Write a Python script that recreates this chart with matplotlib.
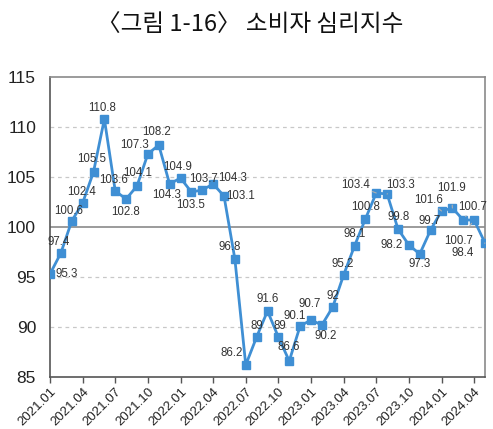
import matplotlib
matplotlib.use("Agg")
import matplotlib.pyplot as plt

# monthly consumer sentiment index, 2021.01 - 2024.05
values = [95.3, 97.4, 100.6, 102.4, 105.5, 110.8, 103.6, 102.8, 104.1, 107.3,
          108.2, 104.3, 104.9, 103.5, 103.7, 104.3, 103.1, 96.8, 86.2, 89,
          91.6, 89, 86.6, 90.1, 90.7, 90.2, 92, 95.2, 98.1, 100.8,
          103.4, 103.3, 99.8, 98.2, 97.3, 99.7, 101.6, 101.9, 100.7, 100.7,
          98.4]
value_text = ["95.3", "97.4", "100.6", "102.4", "105.5", "110.8", "103.6", "102.8", "104.1", "107.3",
              "108.2", "104.3", "104.9", "103.5", "103.7", "104.3", "103.1", "96.8", "86.2", "89",
              "91.6", "89", "86.6", "90.1", "90.7", "90.2", "92", "95.2", "98.1", "100.8",
              "103.4", "103.3", "99.8", "98.2", "97.3", "99.7", "101.6", "101.9", "100.7", "100.7",
              "98.4"]
tick_labels = ["2021.01", "2021.04", "2021.07", "2021.10", "2022.01", "2022.04", "2022.07",
               "2022.10", "2023.01", "2023.04", "2023.07", "2023.10", "2024.01", "2024.04"]

# label offsets in pixels (dx, dy; dy positive = up) and whether a leader line is drawn
offsets = [(17, 0), (-2, 11), (-3, 10), (-1, 11), (-2, 13), (-2, 11), (-2, 11), (-1, -13), (1, 13), (-13, 9),
           (-2, 13), (-3, -11), (-3, 11), (-1, -13), (1, 11), (19, 6), (17, 0), (-5, 12), (-14, 12), (0, 11),
           (0, 12), (1, 11), (-1, 14), (-5, 10), (-1, 16), (4, -11), (0, 11), (-1, 11), (0, 12), (0, 12),
           (-21, 8), (13, 9), (1, 12), (-17, 0), (0, -10), (-1, 9), (-13, 11), (-1, 20), (9, 13), (-16, -21),
           (-22, -10)]
leaders = {30, 31, 36, 37, 38, 39, 40}

dpi = 100
fig = plt.figure(figsize=(4.93, 4.29), dpi=dpi)
ax = fig.add_axes([50 / 493, 1 - 377 / 429, 435 / 493, 300 / 429])

x = list(range(len(values)))
line_color = "#3f8fd4"
ax.plot(x, values, color=line_color, lw=2, marker="s", ms=5.5, zorder=3)

ax.set_xlim(0, len(values) - 1)
ax.set_ylim(85, 115)

for yv in [90, 95, 105, 110]:
    ax.axhline(yv, color="#c8c8c8", lw=0.9, ls=(0, (3, 3)), zorder=1)
ax.axhline(100, color="#8a8a8a", lw=1.2, zorder=1)

ax.set_yticks([85, 90, 95, 100, 105, 110, 115])
ax.set_yticklabels(["85", "90", "95", "100", "105", "110", "115"],
                   fontsize=12.5, family="Liberation Sans", color="#222222")
ax.tick_params(axis="y", length=0, pad=10)

ax.set_xticks(x[::3])
ax.set_xticklabels(tick_labels, rotation=45, ha="right", rotation_mode="anchor",
                   fontsize=9.5, family="Liberation Sans", color="#222222")
ax.tick_params(axis="x", length=4, width=1, color="#555555", pad=2)

for side in ["left", "bottom"]:
    ax.spines[side].set_color("#555555")
    ax.spines[side].set_linewidth(1.2)
for side in ["top", "right"]:
    ax.spines[side].set_color("#8a8a8a")
    ax.spines[side].set_linewidth(1.2)

pt = 72 / dpi
for i, (v, t) in enumerate(zip(values, value_text)):
    dx, dy = offsets[i]
    arrow = None
    if i in leaders:
        arrow = dict(arrowstyle="-", color="#b0b0b0", lw=0.8, shrinkA=6, shrinkB=3)
    ax.annotate(t, (i, v), xytext=(dx * pt, dy * pt), textcoords="offset points",
                ha="center", va="center", fontsize=8.3,
                family="Liberation Sans", color="#333333",
                arrowprops=arrow, zorder=4)

fig.text(250 / 493, 1 - 25 / 429, "〈그림 1-16〉 소비자 심리지수", ha="center", va="center",
         fontsize=17, family=["Noto Sans CJK KR", "DejaVu Sans"], color="#111111")

fig.savefig("out.png", dpi=dpi)
